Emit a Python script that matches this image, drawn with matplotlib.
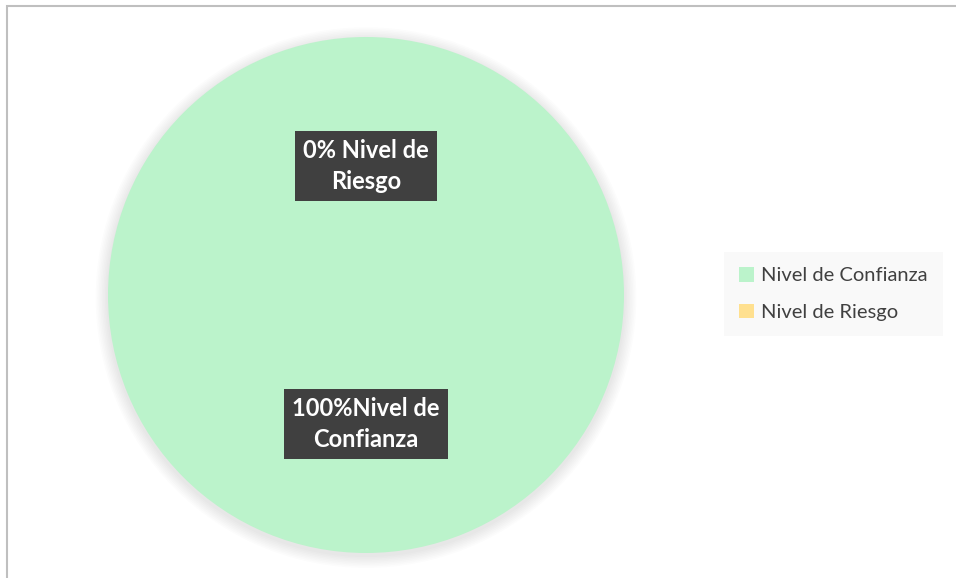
import numpy as np
import matplotlib.pyplot as plt
from matplotlib.patches import Circle, Rectangle

categories = ["Nivel de Confianza", "Nivel de Riesgo"]
values = [100, 0]
colors = ["#BBF3CB", "#FFE08F"]
label_texts = ["100%Nivel de\nConfianza", "0% Nivel de\nRiesgo"]

plt.rcParams['font.family'] = ['Lato', 'DejaVu Sans']

fig = plt.figure(figsize=(9.56, 5.78), dpi=100)
fig.patch.set_facecolor("white")

# chart frame (runs off the right and bottom edge)
fig.patches.append(Rectangle((7 / 956, -0.05), 1.1, 1 - 6 / 578 + 0.05,
                             transform=fig.transFigure, fill=False,
                             edgecolor="#BFBFBF", linewidth=1.5))

# pie area: center (366, 295) px, radius ~258 px
r_px = 258
cx, cy = 366, 295
ax = fig.add_axes([(cx - r_px) / 956, (578 - cy - r_px) / 578,
                   2 * r_px / 956, 2 * r_px / 578])

# soft shadow
for i in range(8):
    rr = 1.0 + 0.006 * (8 - i)
    ax.add_patch(Circle((0, -0.01), rr, color="#000000", alpha=0.01,
                        lw=0, zorder=0, clip_on=False))

wedges, texts = ax.pie(values, colors=colors, startangle=90, counterclock=False,
                       labels=label_texts, labeldistance=0.5, radius=1,
                       wedgeprops=dict(linewidth=0),
                       textprops=dict(color="white", fontsize=17,
                                      fontweight="bold", ha="center",
                                      va="center", linespacing=1.4))
for t in texts:
    t.set_bbox(dict(boxstyle="square,pad=0.35", facecolor="#404040",
                    edgecolor="none"))
    t.set_zorder(5)

ax.set_xlim(-1, 1)
ax.set_ylim(-1, 1)
ax.set_aspect("equal")
ax.axis("off")

leg = fig.legend(wedges, categories, loc="center left",
                 bbox_to_anchor=(724 / 956, 1 - 294 / 578),
                 borderaxespad=0,
                 frameon=True, fontsize=14.5, handlelength=0.75, handleheight=0.75,
                 handletextpad=0.35, labelspacing=0.95, borderpad=0.75,
                 fancybox=False, labelcolor="#404040")
leg.get_frame().set_facecolor("#F8F8F8")
leg.get_frame().set_edgecolor("none")

fig.savefig("out.png", dpi=100, facecolor="white")
